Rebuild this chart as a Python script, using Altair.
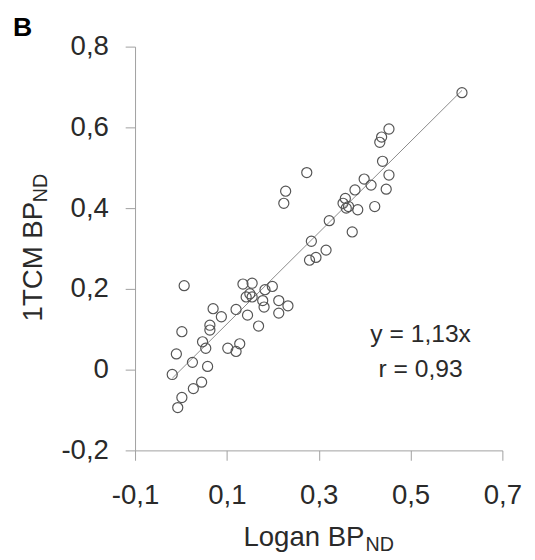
import altair as alt
import pandas as pd

# Logan BP_ND (x) vs 1TCM BP_ND (y)
logan = [0.612, 0.453, 0.437, 0.433, 0.439, 0.453, 0.399, 0.414, 0.447, 0.379,
         0.358, 0.353, 0.365, 0.385, 0.422, 0.360, 0.274, 0.228, 0.224, 0.323,
         0.373, 0.284, 0.316, 0.294, 0.280, 0.007, 0.135, 0.155, 0.199, 0.183,
         0.155, 0.142, 0.213, 0.233, 0.213, 0.181, 0.120, 0.145, 0.169, 0.070,
         0.088, 0.063, 0.063, 0.002, 0.047, 0.054, 0.102, 0.128, 0.120, -0.010,
         0.025, 0.058, -0.019, 0.045, 0.027, 0.002, -0.007, 0.150, 0.178]
tcm = [0.686, 0.596, 0.576, 0.563, 0.516, 0.482, 0.472, 0.457, 0.447, 0.445,
       0.424, 0.412, 0.404, 0.396, 0.404, 0.400, 0.488, 0.442, 0.412, 0.369,
       0.341, 0.318, 0.296, 0.278, 0.271, 0.208, 0.212, 0.214, 0.206, 0.198,
       0.180, 0.180, 0.171, 0.158, 0.140, 0.155, 0.149, 0.135, 0.108, 0.151,
       0.131, 0.110, 0.098, 0.094, 0.069, 0.053, 0.053, 0.064, 0.045, 0.039,
       0.018, 0.008, -0.012, -0.031, -0.047, -0.069, -0.094, 0.188, 0.171]

slope = 1.13
line_x = [min(logan), max(logan)]

x_ticks = [-0.1, 0.1, 0.3, 0.5, 0.7]
x_labels = ["-0,1", "0,1", "0,3", "0,5", "0,7"]
y_ticks = [-0.2, 0, 0.2, 0.4, 0.6, 0.8]
y_labels = ["-0,2", "0", "0,2", "0,4", "0,6", "0,8"]

FONT = "Liberation Sans"


def label_expr(vals, labs):
    parts = [f"abs(datum.value - ({v})) < 1e-6 ? '{l}'" for v, l in zip(vals, labs)]
    return " : ".join(parts) + " : ''"


pts = pd.DataFrame({"x": logan, "y": tcm})
line_df = pd.DataFrame({"x": line_x, "y": [slope * v for v in line_x]})

xs = alt.Scale(domain=[-0.1, 0.7], nice=False, zero=False)
ys = alt.Scale(domain=[-0.2, 0.8], nice=False, zero=False)

axis_common = dict(grid=False, tickSize=10, labelFontSize=28, labelFont=FONT,
                   labelColor="#2a2a2a", domainColor="#a0a0a0", tickColor="#a0a0a0",
                   labelFlush=False, labelOverlap=False, title=None)

x_enc = alt.X("x:Q", scale=xs,
              axis=alt.Axis(values=x_ticks, labelExpr=label_expr(x_ticks, x_labels),
                            labelPadding=22, **axis_common))
y_enc = alt.Y("y:Q", scale=ys,
              axis=alt.Axis(values=y_ticks, labelExpr=label_expr(y_ticks, y_labels),
                            labelPadding=17, **axis_common))

points = alt.Chart(pts).mark_point(shape="circle", filled=False, size=105,
                                   stroke="#555", strokeWidth=1.2, opacity=1).encode(
    x=x_enc, y=y_enc)

fit = alt.Chart(line_df).mark_line(color="#8a8a8a", strokeWidth=1).encode(
    x=alt.X("x:Q", scale=xs), y=alt.Y("y:Q", scale=ys))


def txt(s, x, y, size, align="left", angle=0, bold=False, color="#2a2a2a"):
    kw = dict(align=align, baseline="alphabetic", fontSize=size, font=FONT,
              color=color, fontWeight="bold" if bold else "normal")
    if angle:
        kw["angle"] = angle
    return alt.Chart(pd.DataFrame({"t": [s]})).mark_text(**kw).encode(
        text="t:N", x=alt.value(x), y=alt.value(y))


texts = [
    txt("B", -124, -11, 27, bold=True, color="#000"),
    txt("Logan BP", 233, 507, 28, align="right"),
    txt("ND", 234, 512, 20),
    txt("1TCM BP", -94, 279, 28, align="left", angle=270),
    txt("ND", -89, 158, 20, align="left", angle=270),
    txt("y = 1,13x", 290, 300, 25, align="center"),
    txt("r = 0,93", 290, 335, 25, align="center"),
]

chart = alt.layer(fit, points, *texts).properties(
    width=373, height=410,
    autosize=alt.AutoSizeParams(type="none"),
    padding={"left": 129, "top": 35, "right": 25, "bottom": 102},
).configure_view(stroke=None)

chart.save("out.html", embed_options={"renderer": "svg", "actions": False})
